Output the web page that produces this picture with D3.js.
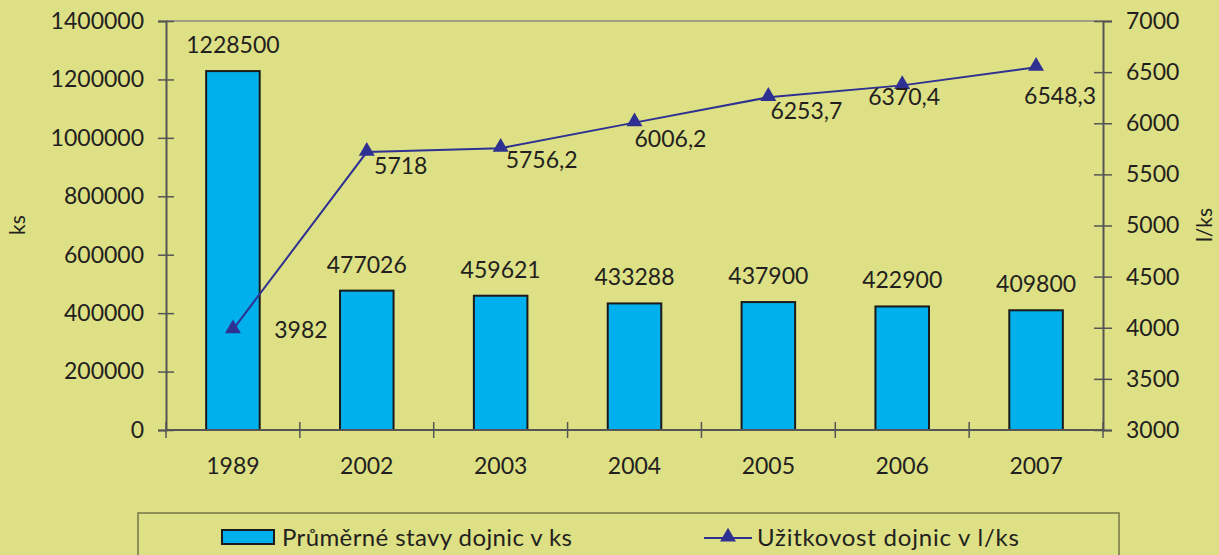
<!DOCTYPE html>
<html><head><meta charset="utf-8">
<script src="https://cdn.jsdelivr.net/npm/d3@7"></script>
<style>
html,body{margin:0;padding:0;background:#dde084;}
svg{display:block;font-family:Lato,"Open Sans",sans-serif;}
</style></head>
<body>
<svg id="chart" width="1219" height="555"></svg>
<script>
const categories = ["1989","2002","2003","2004","2005","2006","2007"];
const barValues = [1228500,477026,459621,433288,437900,422900,409800];
const barLabels = ["1228500","477026","459621","433288","437900","422900","409800"];
const lineValues = [3982,5718,5756.2,6006.2,6253.7,6370.4,6548.3];
const lineLabels = ["3982","5718","5756,2","6006,2","6253,7","6370,4","6548,3"];
const leftTicks = [0,200000,400000,600000,800000,1000000,1200000,1400000];
const rightTicks = [3000,3500,4000,4500,5000,5500,6000,6500,7000];
const seriesNames = ["Průměrné stavy dojnic v ks","Užitkovost dojnic v l/ks"];
// label offsets (layout only)
const lineLabelDx = [68,34,41,36,38,2,24];
const lineLabelDy = [8,22,20,24,22,20,37];

const svg = d3.select("#chart");
const m = {l:166, r:1103, t:21, b:430};
const fs = 23;
const x = d3.scaleBand().domain(categories).range([m.l,m.r]).paddingInner(0.6).paddingOuter(0.3);
const xb = d3.scaleBand().domain(categories).range([m.l,m.r]);
const yL = d3.scaleLinear().domain([0,1400000]).range([m.b,m.t]);
const yR = d3.scaleLinear().domain([3000,7000]).range([m.b,m.t]);
const axisCol = "#555";

// top border
svg.append("line").attr("x1",m.l).attr("x2",m.r).attr("y1",m.t).attr("y2",m.t)
  .attr("stroke","#8a8a8a").attr("stroke-width",1.5);

// bars
svg.selectAll("rect.bar").data(categories).join("rect").attr("class","bar")
  .attr("x",d=>x(d)).attr("width",x.bandwidth())
  .attr("y",(d,i)=>yL(barValues[i])).attr("height",(d,i)=>m.b-yL(barValues[i]))
  .attr("fill","#00b0ec").attr("stroke","#1a1a1a").attr("stroke-width",2);

// left axis
const gL = svg.append("g").attr("transform",`translate(${m.l},0)`)
  .call(d3.axisLeft(yL).tickValues(leftTicks).tickFormat(d3.format("d")).tickSize(8).tickPadding(14));
gL.selectAll(".tick line").attr("x2",8).attr("x1",-8);
// right axis
const gR = svg.append("g").attr("transform",`translate(${m.r},0)`)
  .call(d3.axisRight(yR).tickValues(rightTicks).tickFormat(d3.format("d")).tickSize(9).tickPadding(14));
gR.selectAll(".tick line").attr("x1",-9).attr("x2",9);
// bottom axis
const gB = svg.append("g").attr("transform",`translate(0,${m.b})`)
  .call(d3.axisBottom(x).tickSize(0).tickPadding(28));
// category boundary ticks
svg.selectAll("line.xt").data(categories.concat(["end"])).join("line").attr("class","xt")
  .attr("x1",(d,i)=>m.l+i*xb.bandwidth()).attr("x2",(d,i)=>m.l+i*xb.bandwidth())
  .attr("y1",m.b-8).attr("y2",m.b+8).attr("stroke",axisCol).attr("stroke-width",1.5);

[gL,gR,gB].forEach(g=>{
  g.selectAll(".domain").attr("stroke",axisCol).attr("stroke-width",2);
  g.selectAll(".tick line").attr("stroke",axisCol).attr("stroke-width",1.5);
  g.selectAll("text").attr("font-size",fs).attr("fill","#231f20").attr("font-family","Lato");
});
gB.select(".domain").attr("d",`M${m.l},0H${m.r}`);

// axis titles
svg.append("text").attr("transform","translate(25,225) rotate(-90)").attr("text-anchor","middle")
  .attr("font-size",21).attr("fill","#231f20").text("ks");
svg.append("text").attr("transform","translate(1212,225) rotate(-90)").attr("text-anchor","middle")
  .attr("font-size",21).attr("fill","#231f20").text("l/ks");

// bar labels
svg.selectAll("text.bl").data(categories).join("text").attr("class","bl")
  .attr("x",d=>x(d)+x.bandwidth()/2).attr("y",(d,i)=>yL(barValues[i])-18)
  .attr("text-anchor","middle").attr("font-size",fs).attr("fill","#231f20")
  .text((d,i)=>barLabels[i]);

// line
const cx = d=>x(d)+x.bandwidth()/2;
const lineCol = "#2e3192";
svg.append("path").datum(categories)
  .attr("d",d3.line().x(d=>cx(d)).y((d,i)=>yR(lineValues[i])))
  .attr("fill","none").attr("stroke",lineCol).attr("stroke-width",2);
const tri = d3.symbol().type(d3.symbolTriangle).size(110);
svg.selectAll("path.mk").data(categories).join("path").attr("class","mk")
  .attr("d",tri).attr("transform",(d,i)=>`translate(${cx(d)},${yR(lineValues[i])-1})`)
  .attr("fill",lineCol);
svg.selectAll("text.ll").data(categories).join("text").attr("class","ll")
  .attr("x",(d,i)=>cx(d)+lineLabelDx[i]).attr("y",(d,i)=>yR(lineValues[i])+lineLabelDy[i])
  .attr("text-anchor","middle").attr("font-size",fs).attr("fill","#231f20")
  .text((d,i)=>lineLabels[i]);

// legend
svg.append("rect").attr("x",138).attr("y",513).attr("width",981).attr("height",60)
  .attr("fill","none").attr("stroke","#76764a").attr("stroke-width",1.5);
svg.append("rect").attr("x",222).attr("y",530).attr("width",52).attr("height",14)
  .attr("fill","#00b0ec").attr("stroke","#1a1a1a").attr("stroke-width",2);
svg.append("text").attr("x",282).attr("y",546).attr("font-size",24).attr("fill","#231f20")
  .attr("textLength",290).attr("lengthAdjust","spacing").text(seriesNames[0]);
svg.append("line").attr("x1",704).attr("x2",752).attr("y1",538).attr("y2",538)
  .attr("stroke",lineCol).attr("stroke-width",2);
svg.append("path").attr("d",tri).attr("transform","translate(728,537)").attr("fill",lineCol);
svg.append("text").attr("x",757).attr("y",546).attr("font-size",24).attr("fill","#231f20")
  .attr("textLength",262).attr("lengthAdjust","spacing").text(seriesNames[1]);
</script>
</body></html>
